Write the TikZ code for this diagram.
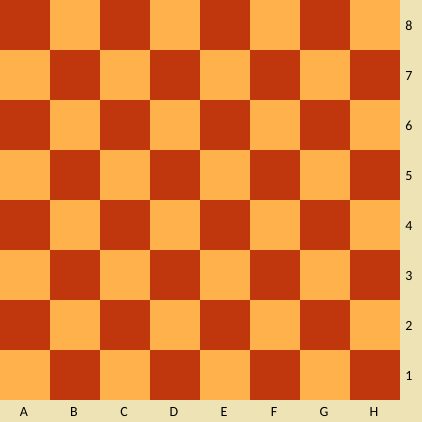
\documentclass[tikz,border=0pt]{standalone}
\usepackage{fontspec}
\setmainfont{Carlito}
\definecolor{darksq}{RGB}{192,55,14}
\definecolor{lightsq}{RGB}{255,178,76}
\definecolor{strip}{RGB}{238,227,180}
\begin{document}
\begin{tikzpicture}[x=1pt,y=1pt,
  lbl/.style={font=\fontsize{14}{16}\selectfont, text=black, inner sep=0pt}]
\useasboundingbox (0,0) rectangle (422,422);
\fill[strip] (0,0) rectangle (422,422);
\foreach \c in {0,...,7}{
  \foreach \r in {1,...,8}{
    \pgfmathtruncatemacro{\p}{mod(\c+\r,2)}
    \ifnum\p=0
      \fill[darksq] (\c*50,\r*50-28) rectangle (\c*50+50,\r*50+22);
    \else
      \fill[lightsq] (\c*50,\r*50-28) rectangle (\c*50+50,\r*50+22);
    \fi
  }
}
\foreach \l [count=\i from 0] in {A,B,C,D,E,F,G,H}{
  \node[lbl] (col\l) at (\i*50+24,10) {\l};
}
\foreach \r in {1,...,8}{
  \node[lbl] (row\r) at (409,\r*50-4) {\r};
}
\end{tikzpicture}
\end{document}
